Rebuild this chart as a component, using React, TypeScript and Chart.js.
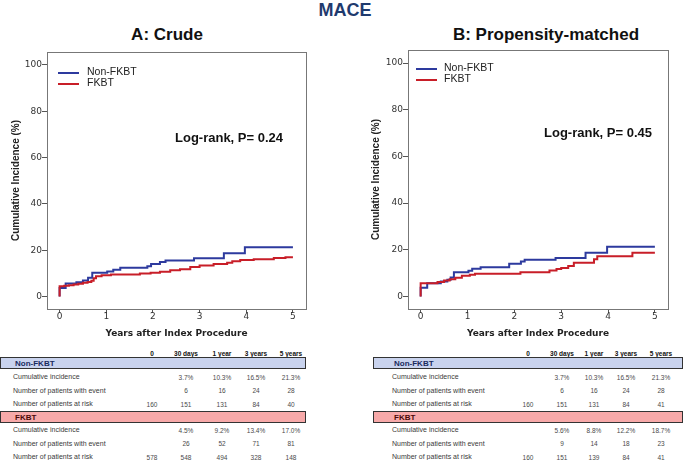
import React, { useEffect, useRef } from 'react';
import { Chart, registerables } from 'chart.js';

Chart.register(...registerables);

// ---------- axis ticks ----------
const xTicks = [0, 1, 2, 3, 4, 5];
const yTicks = [0, 20, 40, 60, 80, 100];

// ---------- A: crude ----------
const crudeNonTimes = [0, 0, 0.13, 0.36, 0.5, 0.61, 0.7, 1.02, 1.15, 1.3, 1.88, 1.96, 2.15, 2.27, 2.88, 3.52, 3.97, 5];
const crudeNonValues = [0, 3.7, 5.6, 6.2, 6.9, 8.1, 10.3, 10.8, 11.6, 12.4, 13.1, 14.0, 14.9, 15.6, 16.5, 18.7, 21.3, 21.3];
const crudeFkTimes = [0, 0, 0.1, 0.2, 0.3, 0.4, 0.5, 0.6, 0.68, 0.73, 0.78, 0.9, 1.1, 1.72, 1.95, 2.15, 2.37, 2.58, 2.8, 3.0, 3.3, 3.59, 3.7, 3.87, 4.16, 4.59, 4.84, 5];
const crudeFkValues = [0, 4.4, 4.6, 4.9, 5.2, 5.5, 5.9, 6.3, 6.8, 7.9, 8.7, 9.2, 9.5, 9.9, 10.3, 10.7, 11.3, 11.8, 12.7, 13.4, 14.0, 14.6, 15.2, 15.8, 16.1, 16.6, 17.0, 17.0];

// ---------- B: propensity-matched ----------
const matchedNonTimes = [0, 0, 0.14, 0.43, 0.57, 0.64, 0.71, 1.02, 1.1, 1.28, 1.89, 2.14, 2.22, 2.88, 3.52, 3.98, 5];
const matchedNonValues = [0, 3.7, 5.6, 6.4, 7.1, 8.1, 10.3, 11.0, 11.8, 12.5, 14.0, 15.0, 15.7, 16.5, 18.7, 21.3, 21.3];
const matchedFkTimes = [0, 0, 0.36, 0.5, 0.62, 0.74, 0.88, 1.05, 1.16, 2.13, 2.75, 2.9, 3.0, 3.15, 3.27, 3.7, 3.77, 4.52, 5];
const matchedFkValues = [0, 5.6, 6.2, 6.8, 7.4, 8.0, 8.8, 9.3, 9.7, 10.4, 11.1, 11.7, 12.2, 13.0, 14.4, 15.9, 17.2, 18.7, 18.7];

// ---------- tables ----------
const tableHeaders = ['0', '30 days', '1 year', '3 years', '5 years'];
const rowLabels = ['Cumulative incidence', 'Number of patients with event', 'Number of patients at risk'];
const groupNames = ['Non-FKBT', 'FKBT'];

const crudeNonIncidence = ['', '3.7%', '10.3%', '16.5%', '21.3%'];
const crudeNonEvents = ['', '6', '16', '24', '28'];
const crudeNonAtRisk = ['160', '151', '131', '84', '40'];
const crudeFkIncidence = ['', '4.5%', '9.2%', '13.4%', '17.0%'];
const crudeFkEvents = ['', '26', '52', '71', '81'];
const crudeFkAtRisk = ['578', '548', '494', '328', '148'];

const matchedNonIncidence = ['', '3.7%', '10.3%', '16.5%', '21.3%'];
const matchedNonEvents = ['', '6', '16', '24', '28'];
const matchedNonAtRisk = ['160', '151', '131', '84', '41'];
const matchedFkIncidence = ['', '5.6%', '8.8%', '12.2%', '18.7%'];
const matchedFkEvents = ['', '9', '14', '18', '23'];
const matchedFkAtRisk = ['160', '151', '139', '84', '41'];

const BLUE = '#2d3a9e';
const RED = '#c81e28';
const FONT = "'Liberation Sans', Arial, Helvetica, sans-serif";

const framePlugin = {
  id: 'frame',
  beforeDatasetsDraw(chart: any) {
    const { ctx, chartArea: a } = chart;
    ctx.save();
    ctx.strokeStyle = '#777777';
    ctx.lineWidth = 1;
    ctx.strokeRect(Math.round(a.left) + 0.5, Math.round(a.top) + 0.5, Math.round(a.right - a.left), Math.round(a.bottom - a.top));
    ctx.restore();
  },
};

type KMProps = {
  nonT: number[]; nonV: number[]; fkT: number[]; fkV: number[];
  left: number; top: number; width: number; height: number;
  padTop: number; padRight: number; yAxisWidth: number; yTitlePad: number;
};

function KMChart(p: KMProps) {
  const ref = useRef<HTMLCanvasElement | null>(null);
  useEffect(() => {
    if (!ref.current) return;
    const toPts = (ts: number[], vs: number[]) => ts.map((t, i) => ({ x: t, y: vs[i] }));
    const chart = new Chart(ref.current, {
      type: 'line',
      data: {
        datasets: [
          { label: groupNames[1], data: toPts(p.fkT, p.fkV), borderColor: RED, borderWidth: 2, pointRadius: 0, stepped: 'before', fill: false },
          { label: groupNames[0], data: toPts(p.nonT, p.nonV), borderColor: BLUE, borderWidth: 2, pointRadius: 0, stepped: 'before', fill: false },
        ],
      },
      options: {
        animation: false,
        responsive: false,
        maintainAspectRatio: false,
        layout: { padding: { top: p.padTop, right: p.padRight, left: 0, bottom: 0 } },
        plugins: { legend: { display: false }, tooltip: { enabled: false } },
        scales: {
          x: {
            type: 'linear',
            min: -0.27,
            max: 5.28,
            afterBuildTicks: (s: any) => { s.ticks = xTicks.map((v) => ({ value: v })); },
            afterFit: (s: any) => { s.height = 35; },
            grid: { display: true, drawOnChartArea: false, drawTicks: true, tickLength: 4, color: '#555' },
            border: { display: false },
            ticks: { padding: -2, color: '#333', font: { family: "'DejaVu Sans'", size: 9 }, callback: (v: any) => String(v), maxRotation: 0 },
            title: { display: true, text: 'Years after Index Procedure', color: '#222', font: { family: "'DejaVu Sans'", size: 9, weight: 'bold' }, padding: { top: 0, bottom: 5 } },
          },
          y: {
            type: 'linear',
            min: -5.4,
            max: 105.6,
            afterBuildTicks: (s: any) => { s.ticks = yTicks.map((v) => ({ value: v })); },
            afterFit: (s: any) => { s.width = p.yAxisWidth; },
            grid: { display: true, drawOnChartArea: false, drawTicks: true, tickLength: 5, color: '#555' },
            border: { display: false },
            ticks: { padding: 0, color: '#333', font: { family: "'DejaVu Sans'", size: 9 }, callback: (v: any) => String(v) },
            title: { display: true, text: 'Cumulative Incidence (%)', color: '#222', font: { family: FONT, size: 10, weight: 'bold' }, padding: { top: p.yTitlePad, bottom: 0 } },
          },
        },
      } as any,
      plugins: [framePlugin],
    });
    return () => chart.destroy();
  }, []);
  return (
    <canvas
      ref={ref}
      width={p.width}
      height={p.height}
      style={{ position: 'absolute', left: p.left, top: p.top, width: p.width, height: p.height }}
    />
  );
}

function T(props: { x: number; y: number; text: string; size: number; bold?: boolean; color?: string; align?: 'left' | 'center'; family?: string }) {
  const lh = Math.ceil(props.size * 1.3);
  const base: React.CSSProperties = {
    position: 'absolute',
    top: props.y - lh / 2,
    lineHeight: lh + 'px',
    height: lh,
    fontSize: props.size,
    fontWeight: props.bold ? 'bold' : 'normal',
    color: props.color || '#222',
    whiteSpace: 'nowrap',
    fontFamily: props.family || FONT,
  };
  if (props.align === 'center') {
    return <div style={{ ...base, left: props.x - 100, width: 200, textAlign: 'center' }}>{props.text}</div>;
  }
  return <div style={{ ...base, left: props.x }}>{props.text}</div>;
}

function Legend(props: { swX: number; textX: number; y1: number; y2: number }) {
  const sw = (y: number, c: string) => (
    <div style={{ position: 'absolute', left: props.swX, top: y - 1, width: 21, height: 2, background: c }} />
  );
  return (
    <>
      {sw(props.y1 + 2, BLUE)}
      {sw(props.y2 + 2, RED)}
      <T x={props.textX} y={props.y1} text={groupNames[0]} size={10.5} />
      <T x={props.textX} y={props.y2} text={groupNames[1]} size={10.5} />
    </>
  );
}

function RiskTable(props: {
  bandLeft: number; bandRight: number; labelX: number; cols: number[];
  non: string[][]; fk: string[][];
}) {
  const headerY = 353;
  const band1 = [357, 369];
  const rows1 = [377, 390.5, 404];
  const band2 = [411, 423];
  const rows2 = [430, 443.5, 457];
  const els: React.ReactNode[] = [];
  tableHeaders.forEach((h, i) => els.push(<T key={'h' + i} x={props.cols[i]} y={headerY} text={h} size={6.5} bold align="center" color="#111" />));
  const band = (key: string, yy: number[], bg: string, name: string, color: string) => (
    <div key={key} style={{ position: 'absolute', left: props.bandLeft, top: yy[0], width: props.bandRight - props.bandLeft, height: yy[1] - yy[0], background: bg, border: '1px solid #333', boxSizing: 'border-box' }}>
      <div style={{ position: 'absolute', left: props.labelX - props.bandLeft + 1, top: 0, lineHeight: (yy[1] - yy[0] - 1) + 'px', fontSize: 8, fontWeight: 'bold', color, fontFamily: FONT, whiteSpace: 'nowrap' }}>{name}</div>
    </div>
  );
  els.push(band('b1', band1, '#c9d3ee', groupNames[0], '#1a2b5e'));
  els.push(band('b2', band2, '#f7a9a9', groupNames[1], '#4a0a0a'));
  const rows = (key: string, ys: number[], data: string[][]) => {
    ys.forEach((y, r) => {
      els.push(<T key={key + 'l' + r} x={props.labelX} y={y} text={rowLabels[r]} size={7} color="#3a3a3a" />);
      data[r].forEach((v, c) => {
        if (v) els.push(<T key={key + r + '_' + c} x={props.cols[c]} y={y} text={v} size={6.5} color="#4a4a4a" align="center" />);
      });
    });
  };
  rows('n', rows1, props.non);
  rows('f', rows2, props.fk);
  return <>{els}</>;
}

export default function App() {
  return (
    <div style={{ position: 'absolute', left: 0, top: 0, width: 685, height: 460, background: '#fff', overflow: 'hidden', fontFamily: FONT }}>
      <T x={345} y={10} text="MACE" size={18} bold align="center" color="#1f3a6e" />
      <T x={167} y={34} text="A: Crude" size={17} bold align="center" color="#111" />
      <T x={546} y={34} text="B: Propensity-matched" size={17} bold align="center" color="#111" />

      <KMChart nonT={crudeNonTimes} nonV={crudeNonValues} fkT={crudeFkTimes} fkV={crudeFkValues}
        left={0} top={44} width={340} height={300} padTop={8} padRight={34} yAxisWidth={47} yTitlePad={10} />
      <KMChart nonT={matchedNonTimes} nonV={matchedNonValues} fkT={matchedFkTimes} fkV={matchedFkValues}
        left={340} top={42} width={345} height={302} padTop={8} padRight={17} yAxisWidth={68} yTitlePad={30} />

      <Legend swX={58} textX={87} y1={71} y2={82} />
      <Legend swX={416} textX={444} y1={67} y2={78} />

      <T x={175} y={137} text="Log-rank, P= 0.24" size={13} bold color="#111" />
      <T x={544} y={132} text="Log-rank, P= 0.45" size={13} bold color="#111" />

      <RiskTable bandLeft={0} bandRight={306} labelX={13} cols={[152, 186, 222, 256, 291]}
        non={[crudeNonIncidence, crudeNonEvents, crudeNonAtRisk]} fk={[crudeFkIncidence, crudeFkEvents, crudeFkAtRisk]} />
      <RiskTable bandLeft={373} bandRight={683} labelX={392} cols={[528, 562, 594, 626, 661]}
        non={[matchedNonIncidence, matchedNonEvents, matchedNonAtRisk]} fk={[matchedFkIncidence, matchedFkEvents, matchedFkAtRisk]} />
    </div>
  );
}
